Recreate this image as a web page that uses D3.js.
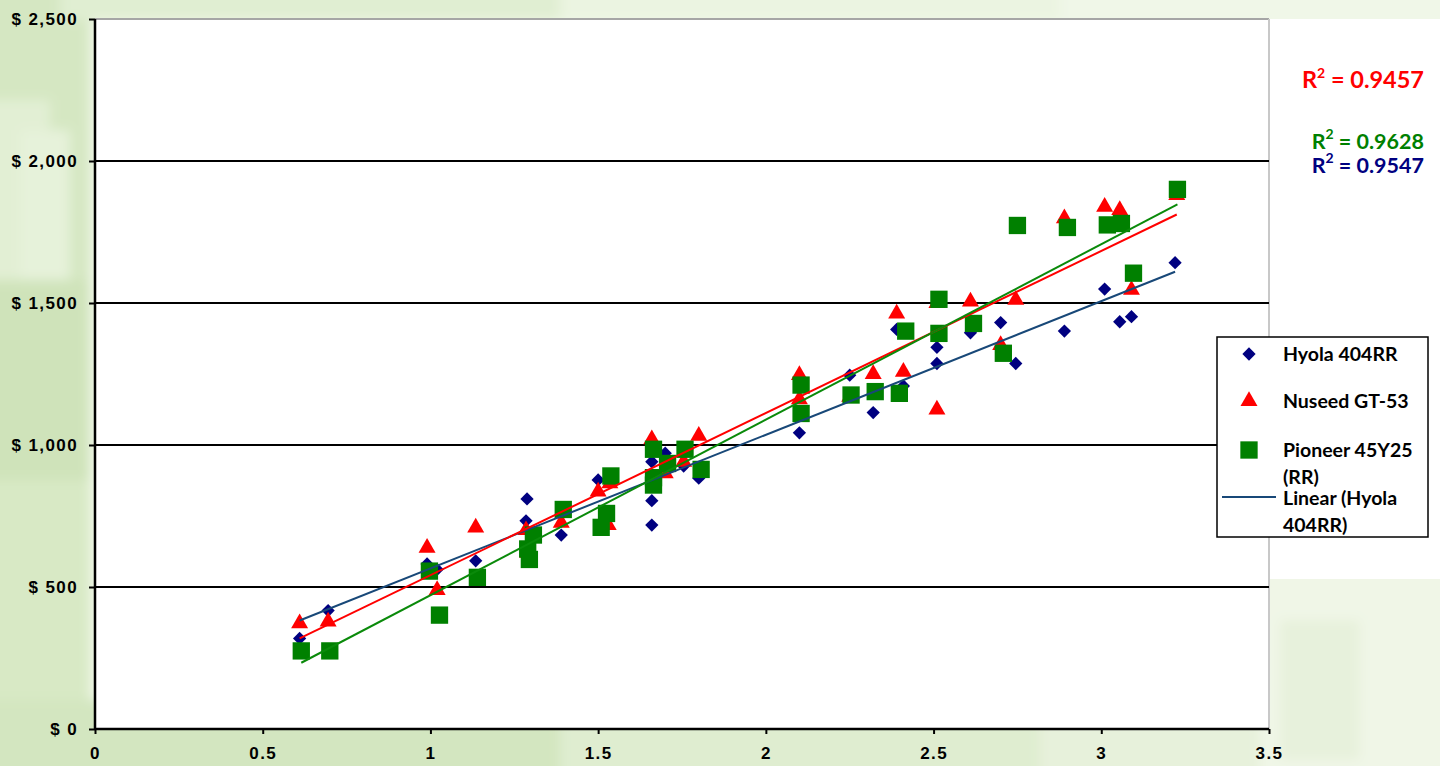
<!DOCTYPE html>
<html>
<head>
<meta charset="utf-8">
<script src="https://cdn.jsdelivr.net/npm/d3@7"></script>
<style>
  html, body { margin: 0; padding: 0; background: #f6faf1; }
  svg { display: block; }
</style>
</head>
<body>
<svg id="chart" width="1440" height="766"></svg>
<script>
// data: [x, $ per acre]
var hyola = [
  [0.61, 319], [0.695, 417], [0.99, 581], [1.02, 562], [1.135, 592],
  [1.285, 733], [1.288, 810], [1.39, 683], [1.50, 877], [1.66, 941],
  [1.66, 804], [1.66, 718], [1.70, 971], [1.755, 926], [1.80, 883],
  [2.10, 1043], [2.25, 1246], [2.32, 1114], [2.39, 1407], [2.41, 1208],
  [2.51, 1344], [2.51, 1287], [2.61, 1395], [2.70, 1431], [2.745, 1287],
  [2.89, 1401], [3.01, 1549], [3.055, 1434], [3.09, 1452], [3.22, 1642]
];
var nuseed = [
  [0.61, 372], [0.695, 378], [0.99, 638], [1.02, 489], [1.135, 709],
  [1.285, 700], [1.29, 620], [1.39, 726], [1.50, 836], [1.535, 865],
  [1.53, 718], [1.66, 1020], [1.70, 900], [1.755, 941], [1.80, 1032],
  [2.10, 1161], [2.10, 1246], [2.25, 1170], [2.32, 1250], [2.39, 1463],
  [2.41, 1258], [2.51, 1125], [2.51, 1500], [2.61, 1505], [2.70, 1352],
  [2.745, 1511], [2.89, 1798], [3.01, 1839], [3.055, 1827], [3.09, 1546],
  [3.225, 1880]
];
var pioneer = [
  [0.615, 275], [0.70, 275], [0.997, 556], [1.027, 401], [1.14, 534],
  [1.29, 634], [1.295, 597], [1.307, 683], [1.396, 773], [1.509, 710],
  [1.525, 759], [1.538, 891], [1.665, 985], [1.665, 885], [1.665, 859],
  [1.707, 935], [1.759, 985], [1.807, 914], [2.105, 1211], [2.105, 1111],
  [2.254, 1176], [2.326, 1188], [2.398, 1182], [2.417, 1401], [2.516, 1513],
  [2.516, 1393], [2.619, 1428], [2.708, 1323], [2.75, 1773], [2.899, 1766],
  [3.018, 1775], [3.06, 1780], [3.096, 1605], [3.227, 1900]
];
var xTicks = [0, 0.5, 1, 1.5, 2, 2.5, 3, 3.5];
var yTicks = [0, 500, 1000, 1500, 2000, 2500];
var seriesNames = ["Hyola 404RR", "Nuseed GT-53", "Pioneer 45Y25 (RR)"];
var r2Labels = ["0.9547", "0.9457", "0.9628"];

var svg = d3.select("#chart");
var plotL = 95, plotR = 1269, plotT = 19, plotB = 729;

var x = d3.scaleLinear().domain([0, 3.5]).range([plotL, plotR]);
var y = d3.scaleLinear().domain([0, 2500]).range([plotB, plotT]);

// --- slide background: pale blurred green tiles ---
var defs = svg.append("defs");
defs.append("filter").attr("id", "blur")
  .attr("x", "-20%").attr("y", "-20%").attr("width", "140%").attr("height", "140%")
  .append("feGaussianBlur").attr("stdDeviation", 6);
var bg = svg.append("g").attr("filter", "url(#blur)");
bg.append("rect").attr("x", -20).attr("y", -20).attr("width", 1480).attr("height", 806).attr("fill", "#f0f7e8");
var tiles = [
  [-20, -20, 110, 300, "#d5e7c2"], [-20, 100, 70, 200, "#e2efd4"], [-20, 280, 110, 220, "#cfe3ba"],
  [-20, 480, 110, 300, "#d8e9c5"], [20, 130, 50, 150, "#e6f2da"], [-20, 700, 600, 90, "#d3e6c0"],
  [560, 720, 500, 70, "#dfedd0"], [1040, 720, 260, 70, "#e7f1db"], [60, -20, 500, 40, "#e0eed2"],
  [560, -20, 500, 40, "#ebf4e1"], [1260, 560, 200, 230, "#f0f6e7"], [1280, 620, 80, 140, "#e7f1dc"]
];
tiles.forEach(function(t) {
  bg.append("rect").attr("x", t[0]).attr("y", t[1]).attr("width", t[2]).attr("height", t[3]).attr("fill", t[4]);
});
// right side (R² area) is white
svg.append("rect").attr("x", plotR).attr("y", plotT).attr("width", 1440 - plotR).attr("height", 560).attr("fill", "#ffffff");

// plot area
svg.append("rect").attr("x", plotL).attr("y", plotT).attr("width", plotR - plotL).attr("height", plotB - plotT).attr("fill", "#ffffff");
svg.append("line").attr("x1", plotL).attr("x2", plotR).attr("y1", plotT).attr("y2", plotT)
  .attr("stroke", "#a6a6a6").attr("stroke-width", 2);
svg.append("line").attr("x1", plotR).attr("x2", plotR).attr("y1", plotT).attr("y2", plotB)
  .attr("stroke", "#c8c8c8").attr("stroke-width", 2);

// gridlines
svg.append("g").selectAll("line").data(yTicks.filter(function(d) { return d > 0 && d < 2500; }))
  .join("line")
  .attr("x1", plotL).attr("x2", plotR)
  .attr("y1", function(d) { return y(d); }).attr("y2", function(d) { return y(d); })
  .attr("stroke", "#000").attr("stroke-width", 2);

// axes
var yAxis = svg.append("g").attr("transform", "translate(" + plotL + ",0)")
  .call(d3.axisLeft(y).tickValues(yTicks).tickSize(6).tickPadding(11)
    .tickFormat(function(d) { return "$ " + d3.format(",")(d); }));
var xAxis = svg.append("g").attr("transform", "translate(0," + plotB + ")")
  .call(d3.axisBottom(x).tickValues(xTicks).tickSize(5).tickPadding(13)
    .tickFormat(function(d) { return String(d); }));
[yAxis, xAxis].forEach(function(a) {
  a.attr("font-size", null).attr("font-family", null);
  a.select(".domain").attr("stroke", "#000").attr("stroke-width", 2.5);
  a.selectAll(".tick line").attr("stroke", "#000").attr("stroke-width", 2);
  a.selectAll(".tick text").attr("fill", "#000")
    .style("font-family", "'Liberation Sans', Arial, sans-serif")
    .style("font-weight", "bold")
    .style("font-size", "17px")
    .style("letter-spacing", "1.4px");
});
yAxis.select(".domain").attr("d", "M0," + plotB + "V" + plotT);
xAxis.select(".domain").attr("d", "M" + plotL + ",0H" + plotR);

// markers
var diamond = d3.symbol().type(d3.symbolSquare).size(88);
var triangle = d3.symbol().type(d3.symbolTriangle).size(125);
var square = d3.symbol().type(d3.symbolSquare).size(300);

var series = [
  { data: hyola, color: "#000080", sym: diamond, rot: 45, line: "#184878" },
  { data: nuseed, color: "#ff0000", sym: triangle, rot: 0, line: "#ff0000" },
  { data: pioneer, color: "#008000", sym: square, rot: 0, line: "#0a8a0a" }
];

series.forEach(function(s) {
  svg.append("g").selectAll("path").data(s.data).join("path")
    .attr("d", s.sym)
    .attr("transform", function(d) { return "translate(" + x(d[0]) + "," + y(d[1]) + ") rotate(" + s.rot + ")"; })
    .attr("fill", s.color);
});

// linear trendlines (least squares)
function fit(pts) {
  var mx = d3.mean(pts, function(d) { return d[0]; });
  var my = d3.mean(pts, function(d) { return d[1]; });
  var b = d3.sum(pts, function(d) { return (d[0] - mx) * (d[1] - my); }) /
          d3.sum(pts, function(d) { return (d[0] - mx) * (d[0] - mx); });
  return { a: my - b * mx, b: b };
}
series.forEach(function(s) {
  var f = fit(s.data);
  var ext = d3.extent(s.data, function(d) { return d[0]; });
  svg.append("line")
    .attr("x1", x(ext[0])).attr("y1", y(f.a + f.b * ext[0]))
    .attr("x2", x(ext[1])).attr("y2", y(f.a + f.b * ext[1]))
    .attr("stroke", s.line).attr("stroke-width", 2);
});

// R² labels
var r2Pos = [[165, "#000080", 0, 21.5], [80, "#ff0000", 1, 23.5], [141, "#008000", 2, 21.5]];
r2Pos.forEach(function(p) {
  var t = svg.append("text")
    .attr("x", 1424).attr("y", p[0] + 8)
    .attr("text-anchor", "end")
    .attr("fill", p[1])
    .style("font-family", "Lato, 'Open Sans', sans-serif")
    .style("font-weight", "bold")
    .style("font-size", p[3] + "px");
  t.append("tspan").text("R");
  t.append("tspan").attr("dy", -10).style("font-size", "14px").text("2");
  t.append("tspan").attr("dy", 10).text(" = " + r2Labels[p[2]]);
});

// legend
var lg = svg.append("g");
lg.append("rect").attr("x", 1217).attr("y", 337).attr("width", 211).attr("height", 200)
  .attr("fill", "#ffffff").attr("stroke", "#000").attr("stroke-width", 1.5);
var lgFont = function(sel) {
  sel.style("font-family", "Lato, 'Open Sans', sans-serif").style("font-weight", "bold")
    .style("font-size", "19.5px").attr("fill", "#000");
};
var lgRows = [
  { y: 354, lines: [seriesNames[0]] },
  { y: 401, lines: [seriesNames[1]] },
  { y: 450, lines: ["Pioneer 45Y25", "(RR)"] }
];
lgRows.forEach(function(r, i) {
  lg.append("path").attr("d", series[i].sym)
    .attr("transform", "translate(1249," + r.y + ") rotate(" + series[i].rot + ")")
    .attr("fill", series[i].color);
  r.lines.forEach(function(l, j) {
    lg.append("text").attr("x", 1283).attr("y", r.y + 7 + j * 27).text(l).call(lgFont);
  });
});
lg.append("line").attr("x1", 1222).attr("x2", 1276).attr("y1", 497).attr("y2", 497)
  .attr("stroke", "#184878").attr("stroke-width", 2);
["Linear (Hyola", "404RR)"].forEach(function(l, j) {
  lg.append("text").attr("x", 1283).attr("y", 505 + j * 27).text(l).call(lgFont);
});
</script>
</body>
</html>
